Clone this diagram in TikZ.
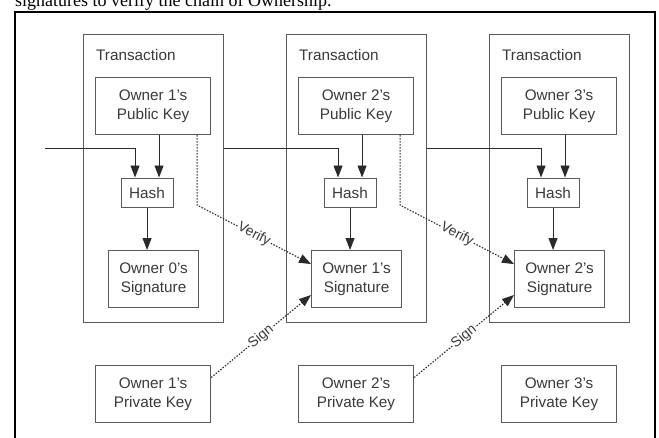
\documentclass[tikz,border=0pt]{standalone}
\usepackage{fontspec}
\setmainfont{Liberation Sans}
\newfontfamily\serifx{Liberation Serif}
\usetikzlibrary{arrows.meta,calc}
\definecolor{boxc}{HTML}{5A5A5A}
\definecolor{txtc}{HTML}{3A3A3A}
\definecolor{linec}{HTML}{2A2A2A}
\tikzset{
  box/.style={draw=boxc, line width=1.1pt, inner sep=0pt, anchor=north west, align=center,
    text=txtc, font=\fontsize{15.3}{18.5}\selectfont},
  txbox/.style={box, minimum width=140pt, minimum height=288pt},
  keybox/.style={box, minimum width=115pt, minimum height=57pt},
  hashbox/.style={box, minimum width=52pt, minimum height=29pt},
  sigbox/.style={box, minimum width=90pt, minimum height=57pt},
  txlabel/.style={anchor=west, inner sep=0pt, text=txtc, font=\fontsize{15.3}{18}\selectfont},
  arr/.style={draw=linec, line width=0.9pt, -{Triangle[length=12pt,width=9pt]}},
  dotline/.style={draw=linec, line width=1.1pt, dash pattern=on 1.5pt off 1.5pt,
    -{Triangle[length=12pt,width=9pt]}},
  lbl/.style={sloped, fill=white, inner sep=0.6pt, text=txtc, font=\fontsize{14}{16}\selectfont}
}
\begin{document}
\begin{tikzpicture}[x=1pt,y=-1pt]
\useasboundingbox (0,0) rectangle (659,437);
\clip (0,0) rectangle (659,437);
\fill[white] (0,0) rectangle (659,437);
% cut-off caption line
\node[anchor=base west, inner sep=0pt, font=\serifx\fontsize{18}{20}\selectfont] (cap) at (15,6) {signatures to verify the chain of Ownership.};
% outer frame
\draw[line width=2.2pt, black] (15,460) -- (15,12) -- (655,12) -- (655,460);

% columns
\foreach \i/\pk/\sg/\pr in {0/1/0/1, 1/2/1/2, 2/3/2/3} {
  \pgfmathsetmacro{\ox}{83+203*\i}
  \node[txbox] (tx\i) at (\ox,34) {};
  \node[txlabel] (tl\i) at (\ox+13,55) {Transaction};
  \node[keybox] (pk\i) at (\ox+12,77) {Owner \pk's\\Public Key};
  \node[hashbox] (hash\i) at (\ox+37.5,177.5) {Hash};
  \node[sigbox] (sig\i) at (\ox+25,250) {Owner \sg's\\Signature};
  \node[keybox] (pr\i) at (\ox+12,365) {Owner \pr's\\Private Key};
  \coordinate (hl\i) at ($(hash\i.north)+(-12,0)$);
  \coordinate (hr\i) at ($(hash\i.north)+(12,0)$);
  \draw[arr] (hr\i |- pk\i.south) -- (hr\i);
  \draw[arr] (hash\i.south) -- (hash\i.south |- sig\i.north);
}

\coordinate (lv) at (0,148.5);
\coordinate (in0) at (45,148.5);
\draw[arr] (in0) -| (hl0);
\draw[arr] (tx0.east |- lv) -| (hl1);
\draw[arr] (tx1.east |- lv) -| (hl2);

% verify and sign
\foreach \a/\b in {0/1, 1/2} {
  \coordinate (vs\a) at ($(pk\a.south)+(44,0)$);
  \coordinate (vb\a) at ($(vs\a)+(0,70)$);
  \draw[dotline] (vs\a) -- (vb\a) -- node[lbl, pos=0.5] {Verify} ($(sig\b.west)+(0,-15)$);
  \draw[dotline] ($(pr\a.east)+(0,-16.5)$) -- node[lbl, pos=0.5] {Sign} ($(sig\b.west)+(0,16)$);
}
\end{tikzpicture}
\end{document}
